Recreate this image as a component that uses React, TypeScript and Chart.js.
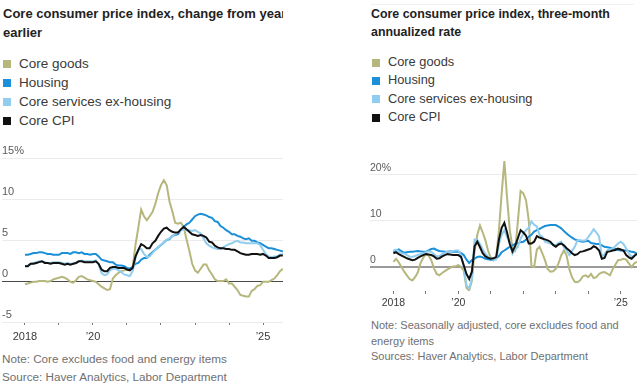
import React, { useEffect, useRef } from 'react';
import { Chart, registerables } from 'chart.js';

Chart.register(...registerables);

const FONT = '"Liberation Sans", Arial, Helvetica, sans-serif';
const START_YEAR = 2018;

const seriesNames = ['Core goods', 'Housing', 'Core services ex-housing', 'Core CPI'];
const seriesColors = ['#b6b77d', '#1b8fd7', '#90cdee', '#111111'];

// Year-over-year change, monthly from Jan 2018 to Aug 2025
const yoyGoods = [
  -0.4, -0.3, -0.2, -0.1, -0.1, 0.0, 0.0, 0.0, -0.1, 0.0, 0.2, 0.3,
  0.4, 0.5, 0.4, 0.2, -0.1, -0.2, 0.1, 0.5, 0.6, 0.4, 0.2, 0.1,
  0.0, -0.1, -0.4, -0.7, -0.9, -1.1, -1.0, 0.3, 0.7, 1.0, 1.2, 1.3,
  1.4, 1.5, 1.7, 4.4, 6.5, 8.7, 7.9, 7.4, 7.9, 8.4, 9.4, 10.7,
  11.7, 12.3, 11.7, 9.7, 8.5, 7.1, 7.0, 7.1, 6.6, 5.1, 3.7, 2.1,
  1.3, 1.0, 1.5, 2.0, 2.0, 1.3, 0.8, 0.2, 0.0, 0.0, 0.0, 0.2,
  -0.3, -0.3, -0.7, -1.1, -1.7, -1.8, -1.9, -1.9, -1.2, -1.0, -0.6, -0.5,
  -0.1, -0.1, -0.1, 0.1, 0.3, 0.7, 1.2, 1.5,
];
const yoyHousing = [
  3.2, 3.2, 3.3, 3.4, 3.4, 3.5, 3.5, 3.4, 3.3, 3.3, 3.2, 3.2,
  3.2, 3.4, 3.4, 3.4, 3.3, 3.5, 3.5, 3.4, 3.5, 3.3, 3.3, 3.2,
  3.3, 3.3, 3.0, 2.6, 2.5, 2.4, 2.3, 2.3, 2.0, 1.9, 1.9, 1.8,
  1.6, 1.5, 1.7, 2.1, 2.2, 2.6, 2.8, 2.8, 3.2, 3.5, 3.8, 4.1,
  4.4, 4.7, 5.0, 5.1, 5.5, 5.6, 5.7, 6.2, 6.6, 6.9, 7.1, 7.5,
  7.9, 8.1, 8.2, 8.1, 8.0, 7.8, 7.7, 7.3, 7.2, 6.7, 6.5, 6.2,
  6.0, 5.7, 5.7, 5.5, 5.4, 5.2, 5.1, 5.2, 4.9, 4.9, 4.7, 4.6,
  4.4, 4.2, 4.0, 4.0, 3.9, 3.8, 3.7, 3.6,
];
const yoyServicesExHousing = [
  1.8, 1.9, 2.1, 2.2, 2.3, 2.4, 2.4, 2.3, 2.2, 2.2, 2.3, 2.3,
  2.3, 2.2, 2.1, 2.2, 2.1, 2.1, 2.2, 2.4, 2.5, 2.4, 2.4, 2.4,
  2.4, 2.5, 2.0, 1.0, 0.7, 0.8, 1.3, 1.5, 1.5, 1.3, 1.1, 0.8,
  0.7, 0.6, 1.2, 2.8, 3.8, 3.9, 3.3, 2.9, 3.0, 3.4, 3.8, 4.1,
  4.4, 4.7, 5.0, 5.2, 5.5, 5.7, 5.9, 6.2, 6.3, 6.2, 6.2, 6.1,
  6.2, 6.0, 5.8, 5.2, 4.6, 4.3, 4.1, 4.0, 3.9, 3.9, 4.1, 4.3,
  4.5, 4.6, 4.8, 4.9, 4.7, 4.7, 4.6, 4.6, 4.6, 4.6, 4.6, 4.4,
  3.8, 3.3, 3.0, 2.9, 3.0, 3.0, 3.2, 3.3,
];
const yoyCoreCPI = [
  1.8, 1.8, 2.1, 2.1, 2.2, 2.3, 2.4, 2.2, 2.2, 2.1, 2.2, 2.2,
  2.2, 2.1, 2.0, 2.1, 2.0, 2.1, 2.2, 2.4, 2.4, 2.3, 2.3, 2.3,
  2.3, 2.4, 2.1, 1.4, 1.2, 1.2, 1.6, 1.7, 1.7, 1.6, 1.6, 1.6,
  1.4, 1.3, 1.6, 3.0, 3.8, 4.5, 4.3, 4.0, 4.0, 4.6, 4.9, 5.5,
  6.0, 6.4, 6.5, 6.2, 6.0, 5.9, 5.9, 6.3, 6.6, 6.3, 6.0, 5.7,
  5.6, 5.5, 5.6, 5.5, 5.3, 4.8, 4.7, 4.3, 4.1, 4.0, 4.0, 3.9,
  3.9, 3.8, 3.8, 3.6, 3.4, 3.3, 3.2, 3.2, 3.3, 3.3, 3.3, 3.2,
  3.3, 3.1, 2.8, 2.8, 2.8, 2.9, 3.1, 3.1,
];

// Three-month annualized rate, monthly from Jan 2018 to Jul 2025
const ann3Goods = [
  1.1, 1.8, 1.0, 0.0, -1.0, -1.8, -2.6, -2.9, -2.2, -1.2, 0.8, 2.0,
  2.8, 2.5, 1.5, -0.3, -1.5, -1.8, -1.3, -0.9, -0.5, -0.2, 0.1, 0.2,
  0.4, 0.0, -0.8, -4.5, -5.1, -3.0, 3.5, 7.0, 9.0, 7.5, 5.8, 3.5,
  2.0, 1.5, 2.2, 8.0, 16.0, 23.0, 15.0, 8.0, 4.2, 3.6, 10.0, 16.5,
  16.0, 14.5, 10.2, 0.2, 0.0, 3.8, 4.4, 3.0, 1.5, -0.4, -1.0, -0.9,
  -0.4, 0.8, 2.5, 3.6, 2.5, -0.5, -2.2, -3.2, -3.3, -2.9, -2.0, -1.8,
  -2.2, -1.5, -2.4, -2.2, -1.5, -1.2, -1.1, -1.4, -1.8, -0.5, 0.5, 1.5,
  1.6, 1.8, 1.6, 0.8, 0.0, 0.8, 1.1,
];
const ann3Housing = [
  3.3, 3.5, 3.8, 3.4, 3.1, 3.2, 3.3, 3.3, 3.4, 3.5, 3.4, 3.3,
  3.3, 3.6, 3.9, 4.0, 3.7, 3.5, 3.4, 3.3, 3.3, 3.4, 3.3, 3.3,
  3.3, 3.0, 2.6, 1.6, 0.9, 1.5, 1.8, 2.2, 2.3, 2.1, 1.8, 1.7,
  1.6, 1.5, 1.9, 2.4, 3.2, 3.6, 4.0, 4.4, 4.7, 5.0, 5.2, 5.4,
  5.5, 5.9, 6.6, 7.0, 7.7, 8.0, 8.3, 8.6, 8.9, 9.0, 9.1, 9.1,
  9.1, 8.8, 8.4, 7.8, 7.3, 6.8, 6.4, 6.0, 5.8, 5.6, 5.5, 5.6,
  5.7, 5.2, 5.1, 5.0, 5.0, 4.7, 4.4, 4.3, 4.2, 4.0, 3.9, 3.7,
  3.6, 3.6, 3.6, 3.5, 3.3, 3.2, 2.9,
];
const ann3ServicesExHousing = [
  3.6, 3.8, 3.4, 3.0, 2.9, 2.6, 2.3, 2.2, 2.4, 2.6, 2.8, 3.0,
  3.2, 3.4, 3.3, 2.8, 2.3, 2.4, 2.8, 3.1, 3.3, 3.4, 3.5, 3.6,
  3.6, 2.6, 0.0, -4.0, -4.7, -2.5, 6.0, 5.9, 5.0, 3.8, 2.9, 2.2,
  1.8, 1.5, 1.7, 5.0, 7.0, 8.0, 6.5, 5.3, 2.9, 3.8, 4.4, 6.2,
  7.2, 8.0, 8.5, 9.9, 9.2, 8.8, 7.0, 6.6, 5.5, 5.3, 5.1, 4.9,
  4.7, 5.2, 5.5, 4.3, 3.6, 2.6, 3.5, 4.4, 5.8, 5.8, 5.7, 5.8,
  6.5, 7.3, 8.2, 7.5, 6.6, 2.2, 2.8, 3.6, 3.8, 4.0, 4.5, 5.1,
  5.5, 5.0, 4.0, 3.0, 2.2, 2.5, 2.9,
];
const ann3CoreCPI = [
  3.0, 3.2, 2.8, 2.5, 2.2, 1.9, 1.7, 1.5, 1.6, 2.0, 2.3, 2.6,
  2.8, 2.7, 2.6, 2.3, 1.8, 1.9, 2.3, 2.6, 2.8, 2.7, 2.6, 2.6,
  2.6, 2.2, 0.4, -1.5, -2.6, -1.0, 4.5, 5.5, 4.3, 3.0, 2.3, 2.0,
  1.8, 1.9, 2.2, 6.0, 8.5, 9.6, 7.5, 5.0, 3.4, 4.6, 6.3, 8.0,
  7.5, 6.8, 5.1, 5.1, 5.5, 6.7, 6.4, 6.2, 6.0, 5.8, 5.5, 4.8,
  4.4, 4.9, 5.1, 4.7, 4.1, 3.6, 3.0, 2.6, 2.8, 3.3, 3.4, 3.6,
  3.8, 4.0, 4.5, 4.2, 3.6, 1.8, 2.0, 3.3, 3.4, 3.6, 3.7, 4.0,
  3.8, 3.6, 2.6, 2.1, 1.8, 2.4, 2.9,
];

const yearTicks = [2018, 2019, 2020, 2021, 2022, 2023, 2024, 2025];
const yearLabels: Record<number, string> = { 2018: '2018', 2020: '\u201920', 2025: '\u201925' };

const leftYTicks = [-5, 0, 5, 10, 15];
const rightYTicks = [0, 10, 20];

type ChartProps = {
  series: number[][];
  left: number;
  top: number;
  width: number;
  height: number;
  padding: { top: number; left: number; right: number; bottom: number };
  xMin: number;
  xMax: number;
  yMin: number;
  yMax: number;
  yTicks: number[];
  topLabel: number;
  xAxisHeight: number;
  fontSize: number;
  zeroColor: string;
  zeroWidth: number;
  xLabelPad: number;
};

function LineChart(p: ChartProps) {
  const ref = useRef<HTMLCanvasElement>(null);
  useEffect(() => {
    if (!ref.current) return;
    const datasets = p.series.map((vals, i) => ({
      label: seriesNames[i],
      data: vals.map((v, m) => ({ x: START_YEAR + m / 12, y: v })),
      borderColor: seriesColors[i],
      backgroundColor: seriesColors[i],
      borderWidth: i === 3 ? 2 : 2,
      pointRadius: 0,
      tension: 0,
      order: 3 - i,
    }));
    const chart = new Chart(ref.current, {
      type: 'line',
      data: { datasets },
      options: {
        animation: false,
        responsive: false,
        events: [],
        layout: { padding: p.padding, autoPadding: false },
        plugins: { legend: { display: false }, tooltip: { enabled: false }, title: { display: false } },
        scales: {
          x: {
            type: 'linear',
            min: p.xMin,
            max: p.xMax,
            border: { display: false },
            afterBuildTicks: (s: any) => {
              s.ticks = yearTicks.map((v) => ({ value: v }));
            },
            afterFit: (s: any) => {
              s.height = p.xAxisHeight;
            },
            grid: {
              drawOnChartArea: false,
              drawTicks: true,
              tickLength: 3,
              color: '#777',
              lineWidth: 1,
            },
            ticks: {
              autoSkip: false,
              maxRotation: 0,
              minRotation: 0,
              padding: p.xLabelPad,
              color: '#3a3a3a',
              font: { family: FONT, size: p.fontSize },
              callback: (v: any) => yearLabels[Math.round(Number(v))] ?? '',
            },
          },
          y: {
            type: 'linear',
            min: p.yMin,
            max: p.yMax,
            border: { display: false },
            afterBuildTicks: (s: any) => {
              s.ticks = p.yTicks.map((v) => ({ value: v }));
            },
            afterFit: (s: any) => {
              s.width = 0;
            },
            grid: {
              drawTicks: false,
              color: (ctx: any) => (ctx.tick && ctx.tick.value === 0 ? p.zeroColor : '#ebebeb'),
              lineWidth: (ctx: any) => (ctx.tick && ctx.tick.value === 0 ? p.zeroWidth : 1),
            },
            ticks: {
              mirror: true,
              padding: 0,
              labelOffset: -7,
              color: '#5a5a5a',
              font: { family: FONT, size: p.fontSize },
              callback: (v: any) => (Number(v) === p.topLabel ? `${v}%` : `${v}`),
            },
          },
        },
      },
    } as any);
    return () => chart.destroy();
  }, []);
  return (
    <canvas
      ref={ref}
      width={p.width}
      height={p.height}
      style={{ position: 'absolute', left: p.left, top: p.top, width: p.width, height: p.height }}
    />
  );
}

function Legend({ left, top, lineHeight, fontSize, boxSize, textLeft }: any) {
  return (
    <div style={{ position: 'absolute', left, top }}>
      {seriesNames.map((name, i) => (
        <div key={name} style={{ position: 'relative', height: lineHeight, lineHeight: `${lineHeight}px`, fontSize, color: '#3a3a3a', whiteSpace: 'nowrap' }}>
          <span
            style={{
              position: 'absolute',
              left: 0,
              top: (lineHeight - boxSize) / 2 + 0.5,
              width: boxSize,
              height: boxSize,
              background: seriesColors[i],
            }}
          />
          <span style={{ position: 'absolute', left: textLeft }}>{name}</span>
        </div>
      ))}
    </div>
  );
}

export default function App() {
  return (
    <div
      style={{
        position: 'fixed',
        left: 0,
        top: 0,
        width: 643,
        height: 386,
        background: '#fff',
        overflow: 'hidden',
        fontFamily: FONT,
      }}
    >
      {/* Left panel */}
      <div style={{ position: 'absolute', left: 0, top: 0, width: 283, height: 50, overflow: 'hidden' }}>
        <div
          style={{
            position: 'absolute',
            left: 3,
            top: 4,
            whiteSpace: 'nowrap',
            fontWeight: 700,
            fontSize: 13,
            lineHeight: '19px',
            color: '#222',
          }}
        >
          Core consumer price index, change from year
          <br />
          earlier
        </div>
      </div>
      <Legend left={3} top={53.5} lineHeight={19} fontSize={13.5} boxSize={8} textLeft={16} />
      <LineChart
        series={[yoyGoods, yoyHousing, yoyServicesExHousing, yoyCoreCPI]}
        left={0}
        top={140}
        width={290}
        height={210}
        padding={{ top: 18, left: 2, right: 7, bottom: 0 }}
        xMin={2017.324}
        xMax={2025.588}
        yMin={-5}
        yMax={15}
        yTicks={leftYTicks}
        topLabel={15}
        xAxisHeight={28}
        fontSize={11}
        zeroColor="#4a4a4a"
        zeroWidth={1}
        xLabelPad={5}
      />
      <div style={{ position: 'absolute', left: 2, top: 350, fontSize: 11.7, lineHeight: '18px', color: '#707070', whiteSpace: 'nowrap' }}>
        Note: Core excludes food and energy items
        <br />
        Source: Haver Analytics, Labor Department
      </div>

      {/* Right panel */}
      <div style={{ position: 'absolute', left: 371, top: 4, width: 263, height: 1, background: '#f1f1f1' }} />
      <div
        style={{
          position: 'absolute',
          left: 371,
          top: 5,
          whiteSpace: 'nowrap',
          fontWeight: 700,
          fontSize: 12.4,
          lineHeight: '18.3px',
          color: '#222',
        }}
      >
        Core consumer price index, three-month
        <br />
        annualized rate
      </div>
      <Legend left={372} top={53} lineHeight={18.4} fontSize={12.8} boxSize={8} textLeft={16} />
      <LineChart
        series={[ann3Goods, ann3Housing, ann3ServicesExHousing, ann3CoreCPI]}
        left={360}
        top={140}
        width={283}
        height={175}
        padding={{ top: 16, left: 10, right: 6, bottom: 0 }}
        xMin={2017.28}
        xMax={2025.5}
        yMin={-5.2}
        yMax={24.1}
        yTicks={rightYTicks}
        topLabel={20}
        xAxisHeight={24}
        fontSize={10.5}
        zeroColor="#9a9a9a"
        zeroWidth={2}
        xLabelPad={3}
      />
      <div style={{ position: 'absolute', left: 371, top: 318, fontSize: 11, lineHeight: '15.5px', color: '#707070', whiteSpace: 'nowrap' }}>
        Note: Seasonally adjusted, core excludes food and
        <br />
        energy items
        <br />
        Sources: Haver Analytics, Labor Department
      </div>
    </div>
  );
}
